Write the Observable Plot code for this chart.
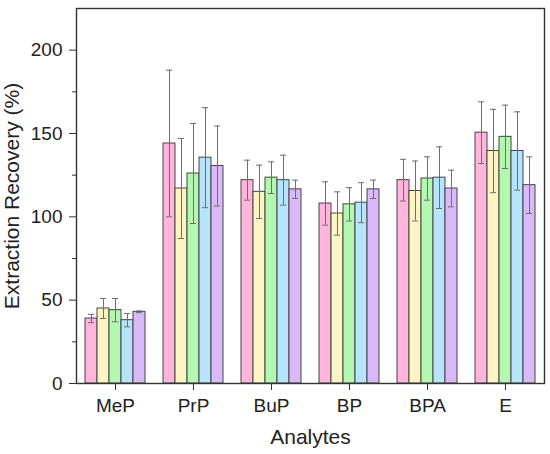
<!DOCTYPE html>
<html>
<head>
<meta charset="utf-8">
<script src="https://cdn.jsdelivr.net/npm/d3@7"></script>
<script src="https://cdn.jsdelivr.net/npm/@observablehq/plot@0.6"></script>
<style>
  html, body { margin: 0; padding: 0; background: #fff; }
</style>
</head>
<body>
<div id="chart"></div>
<script>
const analytes = ["MeP", "PrP", "BuP", "BP", "BPA", "E"];
const series = ["1", "2", "3", "4", "5"];
const colors = ["#ffb5dc", "#fff5c2", "#b4f7b0", "#b5e4fb", "#d9b9f8"];
// mean recovery (%) per analyte, one array per series
const s1 = [39, 144, 122, 108, 122, 150.5];
const s2 = [45, 117, 115, 102, 115.5, 139.5];
const s3 = [44, 126, 123.5, 107.5, 123, 148];
const s4 = [38, 135.5, 122, 108.5, 123.5, 139.5];
const s5 = [43, 130.5, 116.5, 116.5, 117, 119];
// error (±)
const e1 = [2.5, 44, 12, 13, 12.5, 18.5];
const e2 = [6, 30, 16, 13, 18, 25];
const e3 = [7, 30, 9.5, 10, 13, 19];
const e4 = [4, 30, 15, 12, 18.5, 23.5];
const e5 = [0.5, 24, 5.5, 5.5, 11, 17];
const yTicks = [0, 50, 100, 150, 200];
const yMinor = [25, 75, 125, 175];

const means = [s1, s2, s3, s4, s5];
const errs = [e1, e2, e3, e4, e5];
const data = [];
analytes.forEach((a, i) => series.forEach((s, j) => {
  data.push({analyte: a, series: s, value: means[j][i], err: errs[j][i]});
}));

const axisColor = "#333";

const chart = Plot.plot({
  width: 550,
  height: 454,
  marginLeft: 76,
  marginRight: 6,
  marginTop: 8,
  marginBottom: 71,
  style: {fontFamily: "Liberation Sans, Arial, sans-serif", fontSize: "19px", color: "#222", background: "#fff"},
  fx: {domain: analytes, padding: 0},
  x: {domain: series, paddingInner: 0, paddingOuter: 0.6, axis: null},
  y: {domain: [0, 225]},
  color: {domain: series, range: colors},
  marks: [
    Plot.barY(data, {fx: "analyte", x: "series", y: "value", fill: "series", stroke: "#444", strokeWidth: 1}),
    Plot.ruleX(data, {fx: "analyte", x: "series", y1: d => d.value - d.err, y2: d => d.value + d.err, stroke: "#6e6e6e", strokeWidth: 1}),
    Plot.tickY(data, {fx: "analyte", x: "series", y: d => d.value + d.err, stroke: "#6e6e6e", strokeWidth: 1, inset: 3}),
    Plot.tickY(data, {fx: "analyte", x: "series", y: d => d.value - d.err, stroke: "#6e6e6e", strokeWidth: 1, inset: 3}),
    Plot.axisY({ticks: yTicks, tickSize: 7, tickPadding: 7, stroke: axisColor, label: null, fontSize: 19}),
    Plot.axisY({ticks: yMinor, tickSize: 4, tickFormat: () => "", stroke: axisColor, label: null}),
    Plot.axisY({ticks: [], label: "Extraction Recovery (%)", labelAnchor: "center", labelArrow: "none", labelOffset: 72, fontSize: 21}),
    Plot.axisFx({anchor: "bottom", tickSize: 7, tickPadding: 8, stroke: axisColor, label: null, fontSize: 19}),
    Plot.axisFx({anchor: "bottom", ticks: [], label: "Analytes", labelAnchor: "center", labelArrow: "none", labelOffset: 60, fontSize: 21}),
    Plot.frame({
      facet: "super", stroke: axisColor, strokeWidth: 1.4,
      render: (index, scales, values, dims, context, next) => {
        const g = next(index, scales, values, dims, context);
        const fx = scales.fx;
        const yb = dims.height - dims.marginBottom;
        const sel = d3.select(g);
        if (fx) {
          analytes.slice(1).forEach(a => {
            const xx = fx(a);
            sel.append("line")
              .attr("x1", xx).attr("x2", xx)
              .attr("y1", yb).attr("y2", yb + 4)
              .attr("stroke", axisColor).attr("stroke-width", 1);
          });
        }
        return g;
      }
    })
  ]
});

document.getElementById("chart").appendChild(chart);
</script>
</body>
</html>
